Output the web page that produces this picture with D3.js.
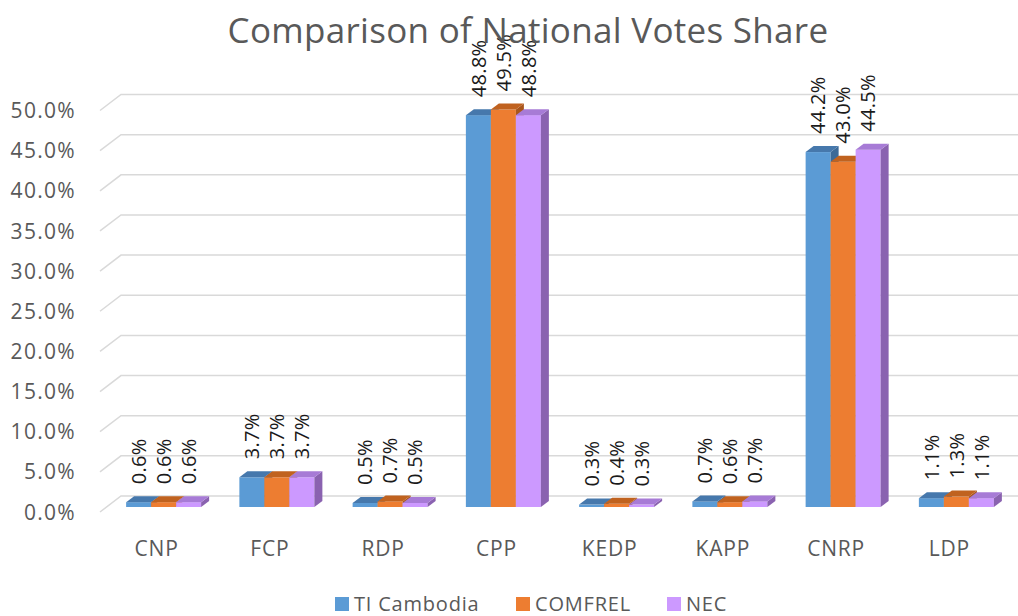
<!DOCTYPE html>
<html>
<head>
<meta charset="utf-8">
<script src="https://cdn.jsdelivr.net/npm/d3@7"></script>
<style>
  html, body { margin: 0; padding: 0; background: #fff; }
  svg { display: block; }
  text { font-family: "Open Sans", "Noto Sans", sans-serif; }
</style>
</head>
<body>
<svg id="chart" width="1018" height="616"></svg>
<script>
const categories = ["CNP", "FCP", "RDP", "CPP", "KEDP", "KAPP", "CNRP", "LDP"];
const seriesNames = ["TI Cambodia", "COMFREL", "NEC"];
const tiCambodia = [0.6, 3.7, 0.5, 48.8, 0.3, 0.7, 44.2, 1.1];
const comfrel    = [0.6, 3.7, 0.7, 49.5, 0.4, 0.6, 43.0, 1.3];
const nec        = [0.6, 3.7, 0.5, 48.8, 0.3, 0.7, 44.5, 1.1];
const yTicks = [0, 5, 10, 15, 20, 25, 30, 35, 40, 45, 50];
const titleText = "Comparison of National Votes Share";

const seriesValues = [tiCambodia, comfrel, nec];
const colors = {
  front: ["#5B9BD5", "#ED7D31", "#CC99FF"],
  top:   ["#4678AC", "#C0621F", "#A77BD6"],
  side:  ["#3C6A98", "#A9561C", "#8A62B0"]
};

const svg = d3.select("#chart");

// Front plane scales
const x = d3.scaleBand().domain(categories).range([100, 1006]).padding(0);
const y = d3.scaleLinear().domain([0, 50]).range([512, 110.5]);
const groupW = 75;
const sub = d3.scaleBand().domain(seriesNames).range([0, groupW]).padding(0);

// depth offsets
const wallDx = 21, wallDy = 16;   // back wall
const barDx = 7, barDy = 5;       // bar front plane
const topDx = 8, topDy = 6;       // bar depth

// Gridlines
const grid = svg.append("g");
yTicks.forEach(t => {
  const yf = y(t), yb = y(t) - wallDy;
  grid.append("path")
    .attr("d", `M${x.range()[0]},${yf} L${x.range()[0] + wallDx},${yb} L1018,${yb}`)
    .attr("fill", "none").attr("stroke", "#d9d9d9").attr("stroke-width", 1.5);
});

// Y tick labels
svg.append("g").selectAll("text").data(yTicks).join("text")
  .attr("x", 76).attr("y", d => y(d)).attr("dy", "0.36em")
  .attr("text-anchor", "end")
  .attr("font-size", 21).attr("letter-spacing", 1.3)
  .attr("fill", "#595959")
  .text(d => d3.format(".1f")(d) + "%");

// Bars
const bars = svg.append("g");
const labels = svg.append("g");
categories.forEach((c, ci) => {
  const gx = x(c) + (x.bandwidth() - groupW) / 2 + barDx;
  seriesNames.forEach((s, si) => {
    const v = seriesValues[si][ci];
    const x0 = gx + sub(s), x1 = x0 + sub.bandwidth();
    const yt = y(v) - barDy, yb = y(0) - barDy;
    bars.append("rect").attr("x", x0).attr("y", yt).attr("width", x1 - x0).attr("height", yb - yt)
      .attr("fill", colors.front[si]);
    bars.append("path")
      .attr("d", `M${x1},${yt} L${x1 + topDx},${yt - topDy} L${x1 + topDx},${yb - topDy} L${x1},${yb} Z`)
      .attr("fill", colors.side[si]);
    bars.append("path")
      .attr("d", `M${x0},${yt} L${x0 + topDx},${yt - topDy} L${x1 + topDx},${yt - topDy} L${x1},${yt} Z`)
      .attr("fill", colors.top[si]);
    const cx = (x0 + x1) / 2;
    labels.append("text")
      .attr("transform", `translate(${cx},${yt - 18}) rotate(-90)`)
      .attr("dy", "0.36em")
      .attr("text-anchor", "start")
      .attr("font-size", 20).attr("letter-spacing", 0.3)
      .attr("fill", "#1a1a1a")
      .text(d3.format(".1f")(v) + "%");
  });
});

// Category labels
svg.append("g").selectAll("text").data(categories).join("text")
  .attr("x", d => x(d) + x.bandwidth() / 2)
  .attr("y", 556)
  .attr("text-anchor", "middle")
  .attr("font-size", 21).attr("letter-spacing", 0.8)
  .attr("fill", "#595959")
  .text(d => d);

// Title
svg.append("text")
  .attr("x", 528).attr("y", 43)
  .attr("text-anchor", "middle")
  .attr("font-size", 35).attr("letter-spacing", 0.3)
  .attr("fill", "#595959")
  .text(titleText);

// Legend
const legendX = [335, 516, 667];
const legend = svg.append("g");
seriesNames.forEach((s, i) => {
  legend.append("rect").attr("x", legendX[i]).attr("y", 597).attr("width", 14).attr("height", 14)
    .attr("fill", colors.front[i]);
  legend.append("text").attr("x", legendX[i] + 19).attr("y", 611)
    .attr("font-size", 20).attr("letter-spacing", 0.8)
    .attr("fill", "#595959").text(s);
});
</script>
</body>
</html>
